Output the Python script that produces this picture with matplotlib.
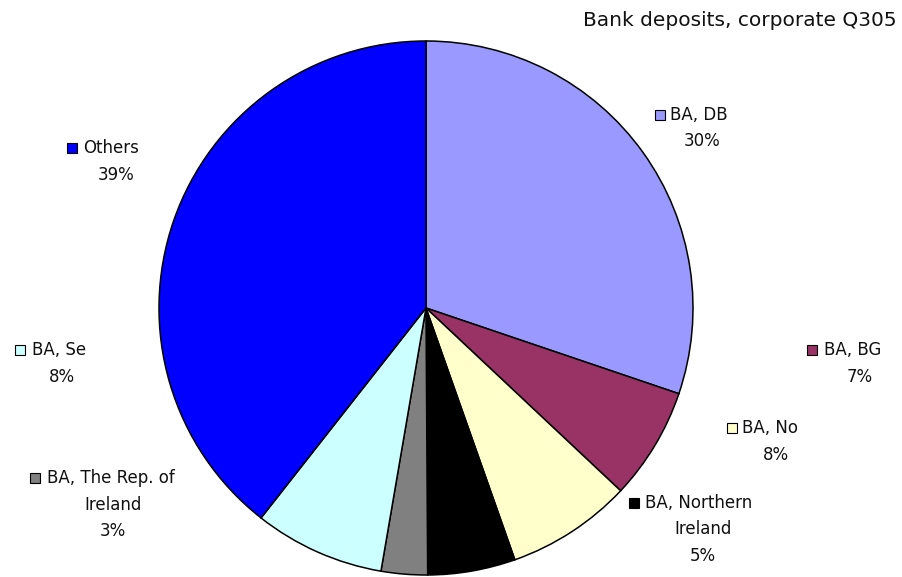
import matplotlib
matplotlib.use("Agg")
import matplotlib.pyplot as plt

# data
labels = ["BA, DB", "BA, BG", "BA, No", "BA, Northern Ireland",
          "BA, The Rep. of Ireland", "BA, Se", "Others"]
shares = [30.2, 6.8, 7.6, 5.3, 2.8, 7.9, 39.4]
pct_text = ["30%", "7%", "8%", "5%", "3%", "8%", "39%"]
colors = ["#9999FF", "#993366", "#FFFFCC", "#000000",
          "#808080", "#CCFFFF", "#0000FF"]

W, H = 903, 577
fig = plt.figure(figsize=(W / 100, H / 100), dpi=100)
ax = fig.add_axes([0, 0, 1, 1])

ax.pie(shares, colors=colors, startangle=90, counterclock=False,
       center=(426, H - 308), radius=267, frame=True,
       wedgeprops=dict(edgecolor="black", linewidth=1.1))
ax.set_xlim(0, W)
ax.set_ylim(0, H)
ax.set_aspect("equal")
ax.axis("off")

fs = 12
# label layout: (square x, y of first line, first-line text start x, center x of other lines)
layout = [
    (660, 115, 670, 702),
    (812, 350, 824, 860),
    (732, 428, 742, 776),
    (634, 503, 645, 703),
    (35, 478, 47, 113),
    (20, 350, 32, 62),
    (72, 148, 83, 116),
]
wrapped = {"BA, Northern Ireland": ["BA, Northern", "Ireland"],
           "BA, The Rep. of Ireland": ["BA, The Rep. of", "Ireland"]}

for lab, pct, col, (sx, sy, tx, cx) in zip(labels, pct_text, colors, layout):
    lines = wrapped.get(lab, [lab]) + [pct]
    ax.plot(sx, H - sy, marker="s", markersize=7.5, markerfacecolor=col,
            markeredgecolor="black", markeredgewidth=0.8, linestyle="none")
    ax.text(tx, H - sy, lines[0], fontsize=fs, ha="left", va="center", color="#111111")
    for k, ln in enumerate(lines[1:], start=1):
        ax.text(cx, H - sy - 26.5 * k, ln, fontsize=fs, ha="center", va="center",
                color="#111111")

ax.text(897, H - 20, "Bank deposits, corporate Q305", fontsize=14.5,
        ha="right", va="center", color="#111111")

fig.savefig("out.png", dpi=100)
